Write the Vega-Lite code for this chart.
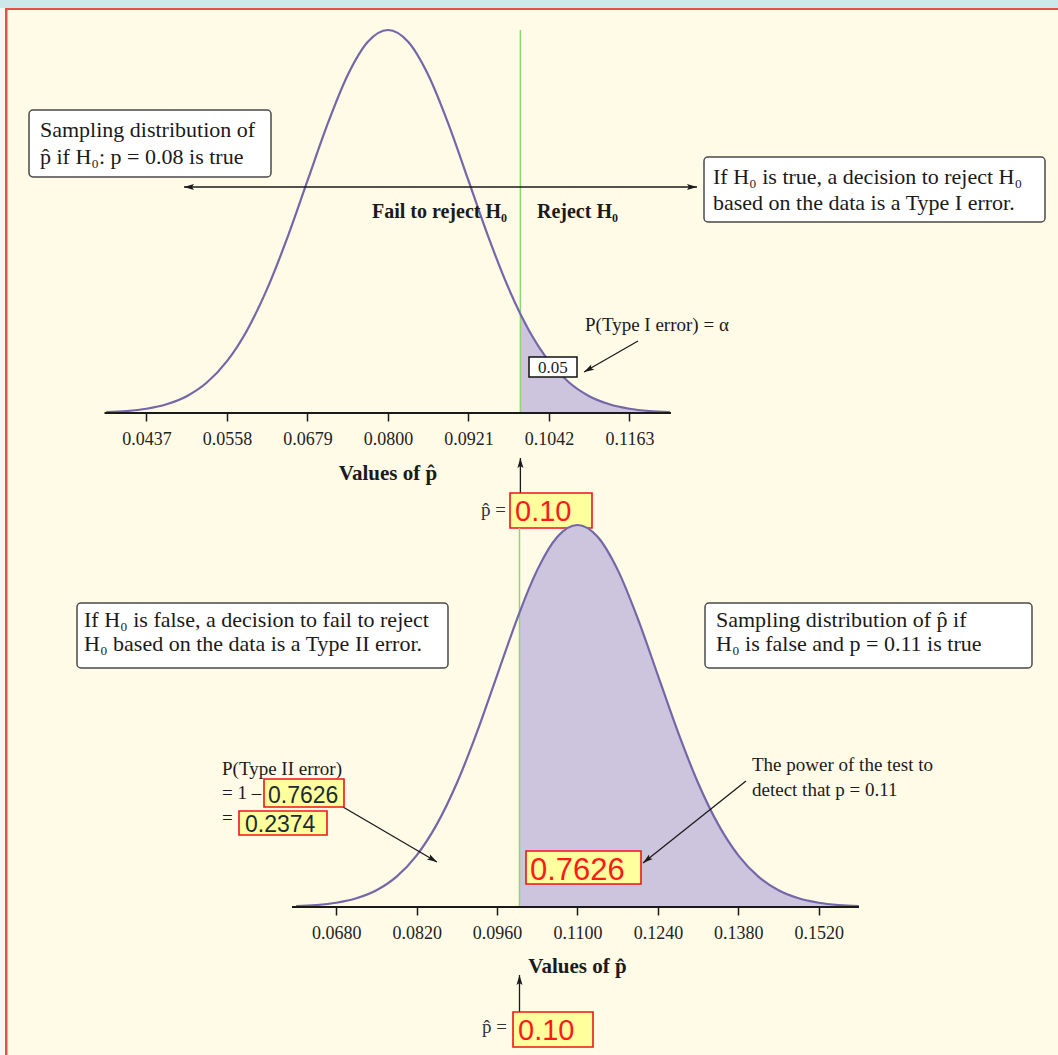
{
  "$schema": "https://vega.github.io/schema/vega-lite/v6.json",
  "background": "#fffbe7",
  "padding": 0,
  "bounds": "flush",
  "spacing": 0,
  "config": {
    "view": {"stroke": null},
    "axis": {"domain": false, "grid": false, "tickColor": "#1a1a1a", "tickSize": 8, "tickWidth": 1.5, "labelFont": "Liberation Serif", "labelFontSize": 18, "labelColor": "#222222", "labelPadding": 9, "labelFlush": false, "labelOverlap": false, "title": null},
    "text": {"font": "Liberation Serif", "baseline": "alphabetic", "color": "#1a1a1a"}
  },
  "datasets": {
    "top_curve": [
      {"phat": 0.03765, "h": 0.00219}, {"phat": 0.040675, "h": 0.00509}, {"phat": 0.0437, "h": 0.01111}, {"phat": 0.046725, "h": 0.02279},
      {"phat": 0.04975, "h": 0.04394}, {"phat": 0.052775, "h": 0.07956}, {"phat": 0.0558, "h": 0.13534}, {"phat": 0.058825, "h": 0.21627},
      {"phat": 0.06185, "h": 0.32465}, {"phat": 0.064875, "h": 0.45783}, {"phat": 0.0679, "h": 0.60653}, {"phat": 0.070925, "h": 0.75484},
      {"phat": 0.07395, "h": 0.8825}, {"phat": 0.076975, "h": 0.96923}, {"phat": 0.08, "h": 1}, {"phat": 0.083025, "h": 0.96923},
      {"phat": 0.08605, "h": 0.8825}, {"phat": 0.089075, "h": 0.75484}, {"phat": 0.0921, "h": 0.60653}, {"phat": 0.095125, "h": 0.45783},
      {"phat": 0.09815, "h": 0.32465}, {"phat": 0.0999, "h": 0.25862}, {"phat": 0.101175, "h": 0.21627}, {"phat": 0.1042, "h": 0.13534},
      {"phat": 0.107225, "h": 0.07956}, {"phat": 0.11025, "h": 0.04394}, {"phat": 0.113275, "h": 0.02279}, {"phat": 0.1163, "h": 0.01111},
      {"phat": 0.119325, "h": 0.00509}, {"phat": 0.12235, "h": 0.00219}
    ],
    "bottom_curve": [
      {"phat": 0.061, "h": 0.00219}, {"phat": 0.0645, "h": 0.00509}, {"phat": 0.068, "h": 0.01111}, {"phat": 0.0715, "h": 0.02279},
      {"phat": 0.075, "h": 0.04394}, {"phat": 0.0785, "h": 0.07956}, {"phat": 0.082, "h": 0.13534}, {"phat": 0.0855, "h": 0.21627},
      {"phat": 0.089, "h": 0.32465}, {"phat": 0.0925, "h": 0.45783}, {"phat": 0.096, "h": 0.60653}, {"phat": 0.0995, "h": 0.75484},
      {"phat": 0.0999, "h": 0.77084}, {"phat": 0.103, "h": 0.8825}, {"phat": 0.1065, "h": 0.96923}, {"phat": 0.11, "h": 1},
      {"phat": 0.1135, "h": 0.96923}, {"phat": 0.117, "h": 0.8825}, {"phat": 0.1205, "h": 0.75484}, {"phat": 0.124, "h": 0.60653},
      {"phat": 0.1275, "h": 0.45783}, {"phat": 0.131, "h": 0.32465}, {"phat": 0.1345, "h": 0.21627}, {"phat": 0.138, "h": 0.13534},
      {"phat": 0.1415, "h": 0.07956}, {"phat": 0.145, "h": 0.04394}, {"phat": 0.1485, "h": 0.02279}, {"phat": 0.152, "h": 0.01111},
      {"phat": 0.1555, "h": 0.00509}, {"phat": 0.159, "h": 0.00219}
    ]
  },
  "vconcat": [
    {
      "width": 1058,
      "height": 413,
      "layer": [
        {"data": {"name": "top_curve"},
         "mark": {"type": "line", "color": "#7467a9", "strokeWidth": 0, "opacity": 0},
         "encoding": {"x": {"field": "phat", "type": "quantitative", "title": null,
                            "scale": {"domain": [0.02168, 0.180708], "nice": false, "zero": false},
                            "axis": {"values": [0.0437, 0.0558, 0.0679, 0.08, 0.0921, 0.1042, 0.1163], "format": ".4f", "title": null}},
                      "y": {"field": "h", "type": "quantitative", "title": null, "axis": null,
                            "scale": {"domain": [0, 1.07833], "nice": false, "zero": false}}}},
        {"data": {"values": [{}]}, "mark": {"type": "rect", "color": "#cde8ea"},
         "encoding": {"x": {"datum": 0.02168, "type": "quantitative"}, "x2": {"datum": 0.180708},
                      "y": {"datum": 1.07833, "type": "quantitative"}, "y2": {"datum": 1.05744}}},
        {"data": {"values": [{}]}, "mark": {"type": "rect", "color": "#f6f6f3"},
         "encoding": {"x": {"datum": 0.02168, "type": "quantitative"}, "x2": {"datum": 0.022432},
                      "y": {"datum": 1.05744, "type": "quantitative"}, "y2": {"datum": -1.67624}}},
        {"data": {"values": [{}]}, "mark": {"type": "rect", "color": "#e5504e"},
         "encoding": {"x": {"datum": 0.022432, "type": "quantitative"}, "x2": {"datum": 0.180708},
                      "y": {"datum": 1.05744, "type": "quantitative"}, "y2": {"datum": 1.05222}}},
        {"data": {"values": [{}]}, "mark": {"type": "rect", "color": "#e5504e"},
         "encoding": {"x": {"datum": 0.022432, "type": "quantitative"}, "x2": {"datum": 0.022807},
                      "y": {"datum": 1.05744, "type": "quantitative"}, "y2": {"datum": -1.67624}}},
        {"data": {"name": "top_curve"}, "transform": [{"filter": "datum.phat >= 0.0999"}],
         "mark": {"type": "area", "color": "#cdc5de", "interpolate": "monotone"},
         "encoding": {"x": {"field": "phat", "type": "quantitative"}, "y": {"field": "h", "type": "quantitative"}}},
        {"data": {"values": [{}]}, "mark": {"type": "rule", "color": "#8ed66f", "strokeWidth": 1.5},
         "encoding": {"x": {"datum": 0.0999, "type": "quantitative"}, "y": {"datum": 0, "type": "quantitative"}, "y2": {"datum": 1}}},
        {"data": {"name": "top_curve"},
         "mark": {"type": "line", "color": "#7467a9", "strokeWidth": 2.2, "interpolate": "monotone"},
         "encoding": {"x": {"field": "phat", "type": "quantitative"}, "y": {"field": "h", "type": "quantitative"}}},
        {"data": {"values": [{}]}, "mark": {"type": "rule", "color": "#1a1a1a", "strokeWidth": 2},
         "encoding": {"x": {"datum": 0.037387, "type": "quantitative"}, "x2": {"datum": 0.122538}, "y": {"datum": 0, "type": "quantitative"}}},
        {"data": {"values": [
            {"x1": 0.026039, "x2": 0.062414, "y1": 0.79112, "y2": 0.61619},
            {"x1": 0.127498, "x2": 0.178754, "y1": 0.66841, "y2": 0.49869}]},
         "mark": {"type": "rect", "fill": "#ffffff", "stroke": "#4a4a4a", "strokeWidth": 1.5, "cornerRadius": 4},
         "encoding": {"x": {"field": "x1", "type": "quantitative"}, "x2": {"field": "x2"}, "y": {"field": "y1", "type": "quantitative"}, "y2": {"field": "y2"}}},
        {"data": {"values": [
            {"x": 0.027692, "y": 0.72063, "text": "Sampling distribution of"},
            {"x": 0.027692, "y": 0.65013, "text": "p̂ if H₀: p = 0.08 is true"},
            {"x": 0.128851, "y": 0.59791, "text": "If H₀ is true, a decision to reject H₀"},
            {"x": 0.128851, "y": 0.53003, "text": "based on the data is a Type I error."}]},
         "mark": {"type": "text", "align": "left", "fontSize": 22},
         "encoding": {"x": {"field": "x", "type": "quantitative"}, "y": {"field": "y", "type": "quantitative"}, "text": {"field": "text"}}},
        {"data": {"values": [
            {"x1": 0.049337, "y1": 0.59008, "x2": 0.126446, "y2": 0.59008},
            {"x1": 0.117578, "y1": 0.18799, "x2": 0.109461, "y2": 0.10705},
            {"x1": 0.0999, "y1": -0.20888, "x2": 0.0999, "y2": -0.11749}]},
         "mark": {"type": "rule", "color": "#1a1a1a", "strokeWidth": 1.3},
         "encoding": {"x": {"field": "x1", "type": "quantitative"}, "y": {"field": "y1", "type": "quantitative"}, "x2": {"field": "x2"}, "y2": {"field": "y2"}}},
        {"data": {"values": [
            {"x": 0.049337, "y": 0.59008, "deg": 180},
            {"x": 0.126446, "y": 0.59008, "deg": 0},
            {"x": 0.109461, "y": 0.10705, "deg": 150.6},
            {"x": 0.0999, "y": -0.11749, "deg": 270}]},
         "mark": {"type": "point", "shape": "M0,0 L-2,-0.6 L-1.6,0 L-2,0.6 Z", "filled": true, "size": 100, "color": "#1a1a1a", "opacity": 1},
         "encoding": {"x": {"field": "x", "type": "quantitative"}, "y": {"field": "y", "type": "quantitative"}, "angle": {"field": "deg", "type": "quantitative", "scale": null}}},
        {"data": {"values": [{"x": 0.097887, "y": 0.50914, "text": "Fail to reject H₀"}]},
         "mark": {"type": "text", "align": "right", "fontSize": 20, "fontWeight": "bold"},
         "encoding": {"x": {"field": "x", "type": "quantitative"}, "y": {"field": "y", "type": "quantitative"}, "text": {"field": "text"}}},
        {"data": {"values": [{"x": 0.102396, "y": 0.50914, "text": "Reject H₀"}]},
         "mark": {"type": "text", "align": "left", "fontSize": 20, "fontWeight": "bold"},
         "encoding": {"x": {"field": "x", "type": "quantitative"}, "y": {"field": "y", "type": "quantitative"}, "text": {"field": "text"}}},
        {"data": {"values": [{"x": 0.109611, "y": 0.2141, "text": "P(Type I error) = α"}]},
         "mark": {"type": "text", "align": "left", "fontSize": 19},
         "encoding": {"x": {"field": "x", "type": "quantitative"}, "y": {"field": "y", "type": "quantitative"}, "text": {"field": "text"}}},
        {"data": {"values": [{"x1": 0.101194, "x2": 0.108409, "y1": 0.14621, "y2": 0.093995}]},
         "mark": {"type": "rect", "fill": "#ffffff", "stroke": "#111111", "strokeWidth": 1.5},
         "encoding": {"x": {"field": "x1", "type": "quantitative"}, "x2": {"field": "x2"}, "y": {"field": "y1", "type": "quantitative"}, "y2": {"field": "y2"}}},
        {"data": {"values": [{"x": 0.104801, "y": 0.10444, "text": "0.05"}]},
         "mark": {"type": "text", "align": "center", "fontSize": 17},
         "encoding": {"x": {"field": "x", "type": "quantitative"}, "y": {"field": "y", "type": "quantitative"}, "text": {"field": "text"}}},
        {"data": {"values": [{"x": 0.08, "y": -0.17449, "text": "Values of p̂"}]},
         "mark": {"type": "text", "align": "center", "fontSize": 21, "fontWeight": "bold"},
         "encoding": {"x": {"field": "x", "type": "quantitative"}, "y": {"field": "y", "type": "quantitative"}, "text": {"field": "text"}}},
        {"data": {"values": [{"x": 0.097737, "y": -0.26893, "text": "p̂ ="}]},
         "mark": {"type": "text", "align": "right", "fontSize": 19, "color": "#333333"},
         "encoding": {"x": {"field": "x", "type": "quantitative"}, "y": {"field": "y", "type": "quantitative"}, "text": {"field": "text"}}},
        {"data": {"values": [{"x1": 0.098338, "x2": 0.110664, "y1": -0.20888, "y2": -0.30026}]},
         "mark": {"type": "rect", "fill": "#ffff9e", "stroke": "#f01414", "strokeWidth": 1.6},
         "encoding": {"x": {"field": "x1", "type": "quantitative"}, "x2": {"field": "x2"}, "y": {"field": "y1", "type": "quantitative"}, "y2": {"field": "y2"}}},
        {"data": {"values": [{"x": 0.09909, "y": -0.28198, "text": "0.10"}]},
         "mark": {"type": "text", "align": "left", "fontSize": 29, "font": "Liberation Sans", "color": "#ff1a1a"},
         "encoding": {"x": {"field": "x", "type": "quantitative"}, "y": {"field": "y", "type": "quantitative"}, "text": {"field": "text"}}}
      ]
    },
    {
      "width": 1058,
      "height": 494,
      "layer": [
        {"data": {"name": "bottom_curve"},
         "mark": {"type": "line", "color": "#7467a9", "strokeWidth": 0, "opacity": 0},
         "encoding": {"x": {"field": "phat", "type": "quantitative", "title": null,
                            "scale": {"domain": [0.009441, 0.193669], "nice": false, "zero": false},
                            "axis": {"values": [0.068, 0.082, 0.096, 0.11, 0.124, 0.138, 0.152], "format": ".4f", "title": null}},
                      "y": {"field": "h", "type": "quantitative", "title": null, "axis": null,
                            "scale": {"domain": [0, 1.293194], "nice": false, "zero": false}}}},
        {"data": {"name": "bottom_curve"}, "transform": [{"filter": "datum.phat >= 0.0999"}],
         "mark": {"type": "area", "color": "#cdc5de", "interpolate": "monotone"},
         "encoding": {"x": {"field": "phat", "type": "quantitative"}, "y": {"field": "h", "type": "quantitative"}}},
        {"data": {"values": [{}]}, "mark": {"type": "rule", "color": "#8ed66f", "strokeWidth": 1.5},
         "encoding": {"x": {"datum": 0.0999, "type": "quantitative"}, "y": {"datum": 0, "type": "quantitative"}, "y2": {"datum": 0.99215}}},
        {"data": {"name": "bottom_curve"},
         "mark": {"type": "line", "color": "#7467a9", "strokeWidth": 2.2, "interpolate": "monotone"},
         "encoding": {"x": {"field": "phat", "type": "quantitative"}, "y": {"field": "h", "type": "quantitative"}}},
        {"data": {"values": [{}]}, "mark": {"type": "rule", "color": "#1a1a1a", "strokeWidth": 2},
         "encoding": {"x": {"datum": 0.060287, "type": "quantitative"}, "x2": {"datum": 0.159019}, "y": {"datum": 0, "type": "quantitative"}}},
        {"data": {"values": [
            {"x1": 0.022849, "x2": 0.087451, "y1": 0.79581, "y2": 0.62565},
            {"x1": 0.132203, "x2": 0.189143, "y1": 0.79581, "y2": 0.62565}]},
         "mark": {"type": "rect", "fill": "#ffffff", "stroke": "#4a4a4a", "strokeWidth": 1.5, "cornerRadius": 4},
         "encoding": {"x": {"field": "x1", "type": "quantitative"}, "x2": {"field": "x2"}, "y": {"field": "y1", "type": "quantitative"}, "y2": {"field": "y2"}}},
        {"data": {"values": [
            {"x": 0.024068, "y": 0.73298, "text": "If H₀ is false, a decision to fail to reject"},
            {"x": 0.024068, "y": 0.67016, "text": "H₀ based on the data is a Type II error."},
            {"x": 0.134118, "y": 0.73298, "text": "Sampling distribution of p̂ if"},
            {"x": 0.134118, "y": 0.67016, "text": "H₀ is false and p = 0.11 is true"}]},
         "mark": {"type": "text", "align": "left", "fontSize": 22},
         "encoding": {"x": {"field": "x", "type": "quantitative"}, "y": {"field": "y", "type": "quantitative"}, "text": {"field": "text"}}},
        {"data": {"values": [
            {"x": 0.048098, "y": 0.34555, "text": "P(Type II error)"},
            {"x": 0.048098, "y": 0.28272, "text": "= 1 –"},
            {"x": 0.048098, "y": 0.21728, "text": "="},
            {"x": 0.140387, "y": 0.35602, "text": "The power of the test to"},
            {"x": 0.140387, "y": 0.29058, "text": "detect that p = 0.11"}]},
         "mark": {"type": "text", "align": "left", "fontSize": 19},
         "encoding": {"x": {"field": "x", "type": "quantitative"}, "y": {"field": "y", "type": "quantitative"}, "text": {"field": "text"}}},
        {"data": {"values": [
            {"x1": 0.069168, "y1": 0.26178, "x2": 0.085536, "y2": 0.1178},
            {"x1": 0.139342, "y1": 0.32984, "x2": 0.121407, "y2": 0.11518},
            {"x1": 0.0999, "y1": -0.27487, "x2": 0.0999, "y2": -0.17801}]},
         "mark": {"type": "rule", "color": "#1a1a1a", "strokeWidth": 1.3},
         "encoding": {"x": {"field": "x1", "type": "quantitative"}, "y": {"field": "y1", "type": "quantitative"}, "x2": {"field": "x2"}, "y2": {"field": "y2"}}},
        {"data": {"values": [
            {"x": 0.085536, "y": 0.1178, "deg": 30.3},
            {"x": 0.121407, "y": 0.11518, "deg": 141.5},
            {"x": 0.0999, "y": -0.17801, "deg": 270}]},
         "mark": {"type": "point", "shape": "M0,0 L-2,-0.6 L-1.6,0 L-2,0.6 Z", "filled": true, "size": 100, "color": "#1a1a1a", "opacity": 1},
         "encoding": {"x": {"field": "x", "type": "quantitative"}, "y": {"field": "y", "type": "quantitative"}, "angle": {"field": "deg", "type": "quantitative", "scale": null}}},
        {"data": {"values": [
            {"x1": 0.055411, "x2": 0.069341, "y1": 0.33508, "y2": 0.26178},
            {"x1": 0.051058, "x2": 0.066381, "y1": 0.25131, "y2": 0.18848},
            {"x1": 0.101033, "x2": 0.121058, "y1": 0.1466, "y2": 0.06021},
            {"x1": 0.09877, "x2": 0.1127, "y1": -0.27487, "y2": -0.36649}]},
         "mark": {"type": "rect", "fill": "#ffff9e", "stroke": "#f01414", "strokeWidth": 1.6},
         "encoding": {"x": {"field": "x1", "type": "quantitative"}, "x2": {"field": "x2"}, "y": {"field": "y1", "type": "quantitative"}, "y2": {"field": "y2"}}},
        {"data": {"values": [
            {"x": 0.056108, "y": 0.27225, "text": "0.7626"},
            {"x": 0.052103, "y": 0.19634, "text": "0.2374"}]},
         "mark": {"type": "text", "align": "left", "fontSize": 23, "font": "Liberation Sans", "color": "#1b2b36"},
         "encoding": {"x": {"field": "x", "type": "quantitative"}, "y": {"field": "y", "type": "quantitative"}, "text": {"field": "text"}}},
        {"data": {"values": [{"x": 0.10173, "y": 0.07068, "text": "0.7626"}]},
         "mark": {"type": "text", "align": "left", "fontSize": 31, "font": "Liberation Sans", "color": "#ff1a1a"},
         "encoding": {"x": {"field": "x", "type": "quantitative"}, "y": {"field": "y", "type": "quantitative"}, "text": {"field": "text"}}},
        {"data": {"values": [{"x": 0.11, "y": -0.17278, "text": "Values of p̂"}]},
         "mark": {"type": "text", "align": "center", "fontSize": 21, "fontWeight": "bold"},
         "encoding": {"x": {"field": "x", "type": "quantitative"}, "y": {"field": "y", "type": "quantitative"}, "text": {"field": "text"}}},
        {"data": {"values": [{"x": 0.097725, "y": -0.32984, "text": "p̂ ="}]},
         "mark": {"type": "text", "align": "right", "fontSize": 19, "color": "#333333"},
         "encoding": {"x": {"field": "x", "type": "quantitative"}, "y": {"field": "y", "type": "quantitative"}, "text": {"field": "text"}}},
        {"data": {"values": [{"x": 0.09964, "y": -0.34817, "text": "0.10"}]},
         "mark": {"type": "text", "align": "left", "fontSize": 29, "font": "Liberation Sans", "color": "#ff1a1a"},
         "encoding": {"x": {"field": "x", "type": "quantitative"}, "y": {"field": "y", "type": "quantitative"}, "text": {"field": "text"}}}
      ]
    }
  ]
}
